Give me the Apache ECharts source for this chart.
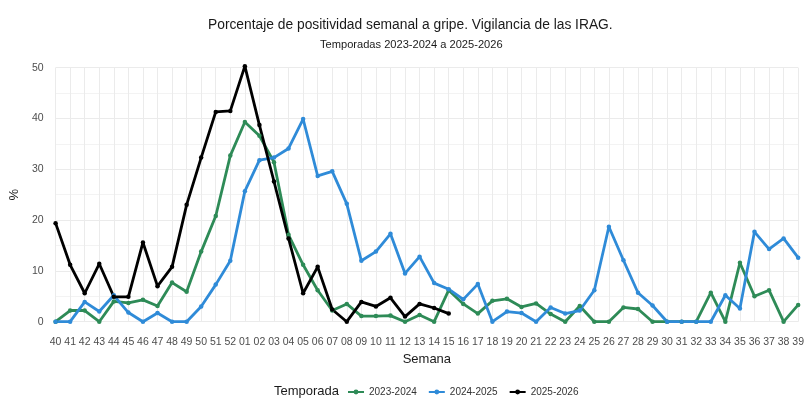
<!DOCTYPE html>
<html>
<head>
<meta charset="utf-8">
<script src="https://cdn.jsdelivr.net/npm/echarts@6/dist/echarts.min.js"></script>
<style>
  html, body { margin: 0; padding: 0; background: #fff; }
  #chart { width: 807px; height: 400px; }
</style>
</head>
<body>
<div id="chart"></div>
<script>
// semanas epidemiologicas (temporada 40 -> 39)
const semanas = ['40','41','42','43','44','45','46','47','48','49','50','51','52',
  '01','02','03','04','05','06','07','08','09','10','11','12','13','14','15','16',
  '17','18','19','20','21','22','23','24','25','26','27','28','29','30','31','32',
  '33','34','35','36','37','38','39'];

const temporadas = ['2023-2024', '2024-2025', '2025-2026'];

const t2324 = [0, 2.2, 2.2, 0, 4.0, 3.7, 4.3, 3.1, 7.7, 5.9, 13.8, 20.8, 32.7,
  39.3, 36.6, 31.4, 17.1, 11.2, 6.2, 2.2, 3.5, 1.1, 1.1, 1.2, 0, 1.3, 0,
  6.2, 3.5, 1.6, 4.1, 4.5, 2.9, 3.6, 1.5, 0, 3.1, 0, 0, 2.8, 2.5, 0, 0,
  0, 0, 5.7, 0, 11.6, 5.0, 6.2, 0, 3.3];

const t2425 = [0, 0, 3.9, 2.0, 5.2, 1.8, 0, 1.7, 0, 0, 3.0, 7.3, 12.0,
  25.7, 31.8, 32.3, 34.1, 39.9, 28.7, 29.6, 23.2, 12.0, 13.8, 17.3, 9.5, 12.8, 7.6,
  6.4, 4.4, 7.4, 0, 2.0, 1.7, 0, 2.8, 1.6, 2.2, 6.2, 18.7, 12.1, 5.7, 3.2, 0,
  0, 0, 0, 5.2, 2.6, 17.7, 14.3, 16.4, 12.6];

const t2526 = [19.4, 11.2, 5.6, 11.4, 4.9, 4.9, 15.6, 7.0, 10.8, 23.0, 32.3, 41.3, 41.5,
  50.3, 38.7, 27.6, 16.4, 5.6, 10.8, 2.4, 0, 3.9, 3.0, 4.7, 1.0, 3.5, 2.7, 1.6];

const colores = ['#2e8b57', '#2f8bd8', '#000000'];

const fuente = '"Liberation Sans", Arial, sans-serif';

let chart = echarts.init(document.getElementById('chart'), null, { renderer: 'canvas' });

function serie(nombre, datos, color) {
  return {
    name: nombre,
    type: 'line',
    data: datos,
    clip: false,
    symbol: 'circle',
    symbolSize: 4.5,
    lineStyle: { color: color, width: 2.8 },
    itemStyle: { color: color },
    emphasis: { disabled: true }
  };
}

let option = {
  animation: false,
  backgroundColor: '#fff',
  textStyle: { fontFamily: fuente },
  title: [
    {
      text: 'Porcentaje de positividad semanal a gripe. Vigilancia de las IRAG.',
      left: 203,
      top: 13,
      textStyle: { fontSize: 13.8, fontWeight: 'normal', color: '#1a1a1a', fontFamily: fuente }
    },
    {
      text: 'Temporadas 2023-2024 a 2025-2026',
      left: 315,
      top: 34,
      textStyle: { fontSize: 11.1, fontWeight: 'normal', color: '#1a1a1a', fontFamily: fuente }
    }
  ],
  color: colores,
  legend: {
    data: temporadas,
    top: 382,
    left: 342,
    itemWidth: 16,
    itemHeight: 6,
    itemGap: 11,
    textStyle: { fontSize: 10, color: '#333', fontFamily: fuente }
  },
  graphic: [{
    type: 'text',
    left: 274,
    top: 385,
    style: { text: 'Temporada', fontSize: 13, fill: '#1a1a1a', fontFamily: fuente }
  }],
  grid: {
    left: 52,
    right: 7,
    top: 67.7,
    bottom: 78.3
  },
  xAxis: {
    type: 'category',
    data: semanas,
    boundaryGap: false,
    name: 'Semana',
    nameLocation: 'middle',
    nameGap: 28,
    nameTextStyle: { fontSize: 13, color: '#1a1a1a' },
    axisLine: { show: false },
    axisTick: { show: false },
    axisLabel: { interval: 0, fontSize: 10.5, color: '#4d4d4d', margin: 15 },
    splitLine: { show: true, lineStyle: { color: '#ebebeb', width: 1 } }
  },
  yAxis: {
    type: 'value',
    min: 0,
    max: 50,
    interval: 10,
    name: '%',
    nameLocation: 'middle',
    nameRotate: 90,
    nameGap: 30,
    nameTextStyle: { fontSize: 13, color: '#1a1a1a' },
    axisLine: { show: false },
    axisTick: { show: false },
    axisLabel: { fontSize: 10.5, color: '#4d4d4d', margin: 12 },
    splitLine: { lineStyle: { color: '#ebebeb', width: 1 } },
    minorTick: { show: false, splitNumber: 2 },
    minorSplitLine: { show: true, lineStyle: { color: '#f3f3f3', width: 1 } }
  },
  series: [
    serie(temporadas[0], t2324, colores[0]),
    serie(temporadas[1], t2425, colores[1]),
    serie(temporadas[2], t2526, colores[2])
  ]
};

chart.setOption(option);
</script>
</body>
</html>
